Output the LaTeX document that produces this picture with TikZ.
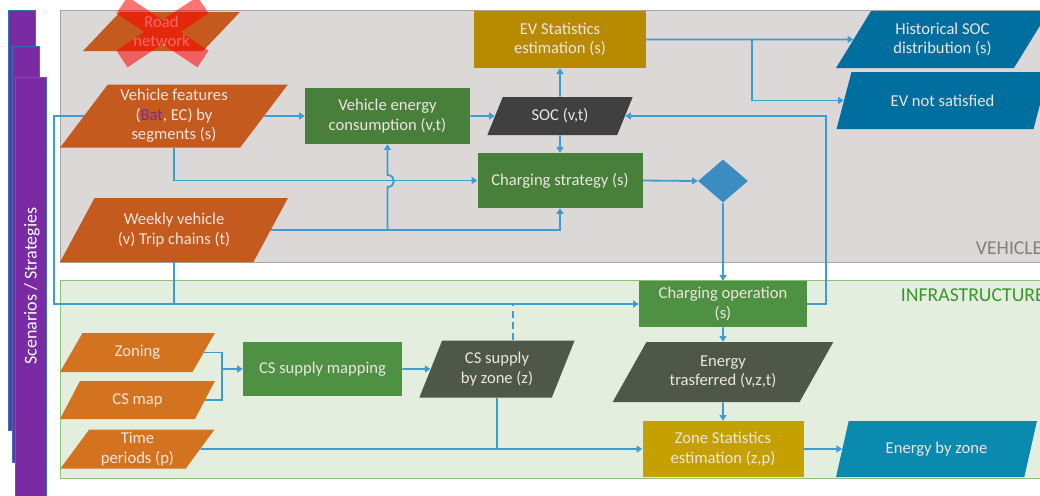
\documentclass[tikz,border=0pt]{standalone}
\usepackage{fontspec}
\setmainfont{Carlito}
\usetikzlibrary{shapes.geometric,arrows.meta}

\definecolor{panelGray}{HTML}{DDD8D8}
\definecolor{panelGrayLine}{HTML}{A5A5A5}
\definecolor{panelGreen}{HTML}{E3EEDF}
\definecolor{panelGreenLine}{HTML}{8CC078}
\definecolor{vehOrange}{HTML}{C55A1E}
\definecolor{infOrange}{HTML}{D4731F}
\definecolor{procGreen}{HTML}{487F3B}
\definecolor{procGreenL}{HTML}{4F9143}
\definecolor{evGold}{HTML}{B88A00}
\definecolor{zoneGold}{HTML}{C4A000}
\definecolor{socGray}{HTML}{404040}
\definecolor{dataGray}{HTML}{4F5848}
\definecolor{outBlue}{HTML}{006F9F}
\definecolor{outTeal}{HTML}{0A8AAF}
\definecolor{diaBlue}{HTML}{3B8CC0}
\definecolor{flowBlue}{HTML}{3C9DD5}
\definecolor{purpleS}{HTML}{7A2AA2}
\definecolor{purpleLine}{HTML}{2E75B6}
\definecolor{txtLight}{HTML}{EDE6E1}
\definecolor{batPurple}{HTML}{7030A0}
\definecolor{vehLabel}{HTML}{808080}
\definecolor{infLabel}{HTML}{3A962A}

\begin{document}
\begin{tikzpicture}[x=0.025cm, y=-0.025cm,
    font=\fontsize{11.8}{13.8}\selectfont,
    wh/.style 2 args={minimum width=#1*0.025cm, minimum height=#2*0.025cm},
    proc/.style={rectangle, fill=#1, text=txtLight, align=center, inner sep=0pt},
    data/.style={trapezium, trapezium stretches=true, fill=#1, text=txtLight,
        align=center, inner sep=0pt},
    slant/.style={trapezium left angle=#1, trapezium right angle=180-#1},
    flow/.style={draw=flowBlue, line width=1.3pt, -{Triangle[width=5pt,length=4pt]}},
    link/.style={draw=flowBlue, line width=1.3pt}]

    \useasboundingbox (0,0) rectangle (1040,495);

    % scenarios / strategies
    \draw[fill=purpleS, draw=purpleLine] (8,10) rectangle (35,430);
    \draw[fill=purpleS, draw=purpleLine] (12,46) rectangle (39,462);
    \draw[fill=purpleS, draw=purpleLine] (15,77) rectangle (46,500);
    \node[rotate=90, text=white, font=\fontsize{12.8}{14}\selectfont] (scen) at (32,286) {Scenarios / Strategies};

    % panels
    \draw[fill=panelGray, draw=panelGrayLine] (60,10) rectangle (1050,262);
    \draw[fill=panelGreen, draw=panelGreenLine] (60,280) rectangle (1050,478);
    \node[anchor=west, text=vehLabel, font=\fontsize{14}{16}\selectfont] (vehLbl) at (971,248) {VEHICLE};
    \node[anchor=west, text=infLabel, font=\fontsize{14}{16}\selectfont] (infLbl) at (896,295) {INFRASTRUCTURE};

    % vehicle
    \node[data=vehOrange, slant=51, wh={157}{39}] (road) at (161.5,31.5) {Road\\network};
    \draw[red, line width=0.5cm, opacity=.55] (122,5) -- (203,59) (203,5) -- (122,59);
    \node[data=vehOrange, slant=54, wh={228}{63}] (vf) at (174,116) {Vehicle features\\(\textcolor{batPurple}{Bat}, EC) by\\segments (s)};
    \node[data=vehOrange, slant=54, wh={228}{64}] (wv) at (174,230) {Weekly vehicle\\(v) Trip chains (t)};
    \node[proc=procGreen, wh={165}{56}] (vec) at (387.5,116) {Vehicle energy\\consumption (v,t)};
    \node[proc=evGold, wh={172}{57}] (evs) at (560,39.5) {EV Statistics\\estimation (s)};
    \node[data=socGray, slant=62, wh={146}{38}] (soc) at (560,116) {SOC (v,t)};
    \node[proc=procGreen, wh={165}{55}] (cst) at (560,180.5) {Charging strategy (s)};
    \node[diamond, fill=diaBlue, inner sep=0pt, wh={50}{43}] (dec) at (723,181) {};
    \node[data=outBlue, slant=54, wh={213}{57}] (hsoc) at (942.5,39.5) {Historical SOC\\distribution (s)};
    \node[data=outBlue, slant=54, wh={213}{57}] (evn) at (942.5,100.5) {EV not satisfied};

    % infrastructure
    \node[proc=procGreenL, wh={168}{46}] (cop) at (723,304) {Charging operation\\(s)};
    \node[data=infOrange, slant=57, wh={155}{39}] (zon) at (137.5,352.5) {Zoning};
    \node[data=infOrange, slant=57, wh={155}{38}] (csmap) at (137.5,400) {CS map};
    \node[data=infOrange, slant=57, wh={155}{39}] (tp) at (137.5,449) {Time\\periods (p)};
    \node[proc=procGreenL, wh={159}{54}] (csm) at (322.5,369) {CS supply mapping};
    \node[data=dataGray, slant=66, wh={156}{57}] (csz) at (497,369) {CS supply\\by zone (z)};
    \node[data=dataGray, slant=54, wh={221}{60}] (etr) at (723,372) {Energy\\trasferred (v,z,t)};
    \node[proc=zoneGold, wh={161}{56}] (zst) at (723,449) {Zone Statistics\\estimation (z,p)};
    \node[data=outTeal, slant=63, wh={201}{56}] (ebz) at (936.5,449) {Energy by zone};

    \coordinate (jEv) at (752,39.5);
    \coordinate (jZ) at (222,369);

    % connectors
    \draw[flow] (vf.east) -- (vec.west);
    \draw[flow] (vf.south -| vf.center) |- (cst.west);
    \draw[flow] (wv.east) -| (cst.south);
    \draw[flow] (vec.south |- wv.east) -- (387.5,187)
        .. controls (396,187) and (396,175) .. (387.5,175) -- (vec.south);
    \draw[flow] (vec.east) -- (soc.west);
    \draw[flow] (soc.north) -- (evs.south);
    \draw[flow] (soc.south) -- (cst.north);
    \draw[flow] (evs.east) -- (hsoc.west);
    \draw[flow] (jEv) |- (evn.west);
    \draw[flow] (cst.east) -- (dec.west);
    \draw[flow] (dec.south) -- (cop.north);
    \draw[flow] (cop.east) -- ++(19,0) |- (soc.east);
    \draw[flow] (vf.west) -- ++(-30,0) |- (cop.west);
    \draw[link] (wv.south -| wv.center) -- (wv.center |- cop.west);
    \draw[link, dash pattern=on 5pt off 3pt] ([xshift=0.4cm]csz.north) -- ([xshift=0.4cm]csz.north |- cop.west);
    \draw[link] (zon.east) -| (jZ) |- (csmap.east);
    \draw[flow] (jZ) -- (csm.west);
    \draw[flow] (csm.east) -- (csz.west);
    \draw[flow] (tp.east) -- (zst.west);
    \draw[link] (csz.south) -- (csz.south |- zst.west);
    \draw[flow] (cop.south) -- (etr.north);
    \draw[flow] (etr.south) -- (zst.north);
    \draw[flow] (zst.east) -- (ebz.west);
\end{tikzpicture}
\end{document}
